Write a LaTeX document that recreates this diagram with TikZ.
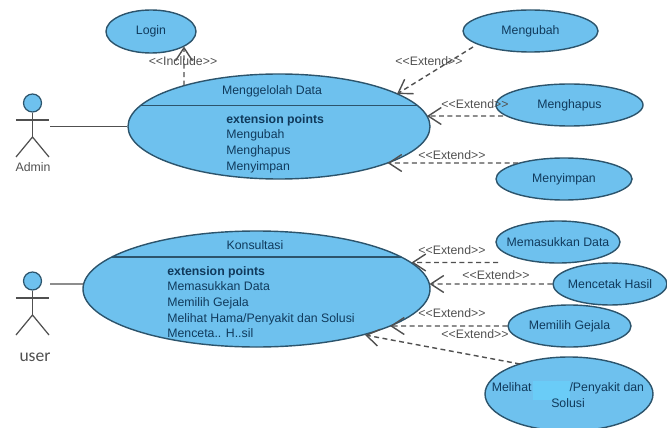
\documentclass[tikz,border=0pt]{standalone}
\usepackage{fontspec}
\setmainfont{Liberation Sans}
\newfontfamily\userfont{Carlito}
\usetikzlibrary{shapes.geometric, arrows.meta, calc}
\definecolor{CaseBlue}{RGB}{110, 193, 238}
\definecolor{CasePatch}{RGB}{106, 204, 247}
\definecolor{CaseLine}{RGB}{44, 84, 108}
\definecolor{CaseText}{RGB}{16, 58, 92}
\definecolor{ActorGrey}{RGB}{80, 80, 80}

\begin{document}
\begin{tikzpicture}[
    % Define styles for the elements
    use case/.style={
        ellipse,
        draw=CaseLine,
        fill=CaseBlue,
        line width=0.8pt,
        inner sep=0pt,
        align=center,
        text=CaseText,
        font=\fontsize{7}{8.9}\selectfont
    },
    case text/.style={
        inner sep=0pt,
        align=left,
        text=CaseText,
        font=\fontsize{7}{8.9}\selectfont
    },
    actor head/.style={
        circle,
        draw=CaseLine,
        fill=CaseBlue,
        line width=0.7pt,
        inner sep=0pt,
        minimum size=0.36cm
    },
    actor line/.style={
        draw=ActorGrey,
        line width=0.7pt
    },
    extend line/.style={
        draw=ActorGrey,
        line width=0.8pt,
        dash pattern=on 2.8pt off 2pt,
        -{Straight Barb[length=2.6mm, width=3.4mm]}
    },
    stereo label/.style={
        inner sep=0pt,
        text=ActorGrey,
        font=\fontsize{7}{8}\selectfont
    }
]
    \useasboundingbox (0,0) rectangle (13.34,8.54);

    % --- Actors ---
    \foreach \name/\hy in {admin/6.48, user/2.92} {
        \node[actor head] (\name) at (0.65,\hy) {};
        \draw[actor line] (\name.south) -- ($(\name.center)+(0,-0.68)$) coordinate (\name hip);
        \draw[actor line] ($(\name.center)+(-0.33,-0.34)$) -- ($(\name.center)+(0.33,-0.34)$);
        \draw[actor line] ($(\name hip)+(-0.33,-0.4)$) -- (\name hip) -- ($(\name hip)+(0.33,-0.4)$);
    }
    \node[stereo label] (adminlabel) at (0.66,5.2) {Admin};
    \node[inner sep=0pt, text=ActorGrey, font=\userfont\fontsize{10}{11}\selectfont] (userlabel) at (0.7,1.39) {user};
    \coordinate (adminhand) at (1.0,6.01);
    \coordinate (userhand) at (1.0,2.86);

    % --- Main use cases ---
    \node[use case, minimum width=6.04cm, minimum height=2.1cm] (data) at (5.58,6.01) {};
    \draw[draw=CaseLine, line width=0.8pt] ($(data.center)+(2.76,0.42)$) -- ($(data.center)+(-2.76,0.42)$);
    \node[case text] (datatitle) at (5.44,6.72) {Menggelolah Data};
    \node[case text, anchor=north west] (datapoints) at (4.52,6.26) {\textbf{extension points}\\Mengubah\\Menghapus\\Menyimpan};

    \node[use case, minimum width=6.94cm, minimum height=2.32cm] (konsul) at (5.13,2.76) {};
    \draw[draw=CaseLine, line width=0.8pt] ($(konsul.center)+(2.89,0.64)$) -- ($(konsul.center)+(-2.89,0.64)$);
    \node[case text] (konsultitle) at (5.1,3.64) {Konsultasi};
    \node[case text, anchor=north west] (konsulpoints) at (3.34,3.22) {\textbf{extension points}\\Memasukkan Data\\Memilih Gejala\\Melihat Hama/Penyakit dan Solusi\\Menceta.. H..sil};

    % --- Other use cases ---
    \node[use case, minimum width=1.8cm, minimum height=0.86cm] (login) at (3.02,7.91) {Login};
    \node[use case, minimum width=2.7cm, minimum height=0.84cm] (mengubah) at (10.61,7.92) {Mengubah};
    \node[use case, minimum width=2.94cm, minimum height=0.84cm] (menghapus) at (11.39,6.44) {Menghapus};
    \node[use case, minimum width=2.72cm, minimum height=0.84cm] (menyimpan) at (11.28,4.96) {Menyimpan};
    \node[use case, minimum width=2.46cm, minimum height=0.84cm] (memilih) at (11.39,2.02) {Memilih Gejala};
    % Long names set apart, or the ellipse grows to hold them
    \node[use case, minimum width=2.48cm, minimum height=0.84cm] (memasukkan) at (11.16,3.7) {};
    \node[case text] (memasukkantext) at (memasukkan.center) {Memasukkan Data};
    \node[use case, minimum width=2.28cm, minimum height=0.84cm] (mencetak) at (12.2,2.86) {};
    \node[case text] (mencetaktext) at (mencetak.center) {Mencetak Hasil};
    \node[use case, minimum width=3.36cm, minimum height=1.48cm] (melihat) at (11.38,0.66) {};
    \fill[CasePatch] (10.66,0.54) rectangle (11.4,0.92);
    \node[case text, align=center] (melihattext) at (11.36,0.64) {Melihat\hspace{0.76cm}/Penyakit dan\\Solusi};
    \coordinate (masukkanend) at (9.96,3.29);

    % --- Connections ---
    \draw[actor line] (adminhand) -- (data.west);
    \draw[actor line] (userhand) -- ($(konsul.center)+(-3.46,0.1)$);

    \draw[extend line] ($(data.center)+(-1.9,0.82)$) -- ($(login.center)+(0.66,-0.3)$);
    \draw[extend line] ($(mengubah.center)+(-1.15,-0.32)$) -- ($(data.center)+(2.36,0.65)$);
    \draw[extend line] ($(menghapus.center)+(-1.33,-0.22)$) -- ($(data.center)+(2.96,0.21)$);
    \draw[extend line] ($(menyimpan.center)+(-0.92,0.32)$) -- ($(data.center)+(2.17,-0.73)$);
    \draw[extend line] (masukkanend) -- ($(konsul.center)+(3.1,0.53)$);
    \draw[extend line] (mencetak.west) -- ($(konsul.center)+(3.46,0.1)$);
    \draw[extend line] (memilih.west) -- ($(konsul.center)+(2.67,-0.74)$);
    \draw[extend line] ($(melihat.center)+(-0.98,0.6)$) -- ($(konsul.center)+(2.17,-0.92)$);

    % --- Stereotype labels ---
    \node[stereo label] (includelabel) at (3.66,7.32) {<{}<Include>{}>};
    \node[stereo label] (extendone) at (8.58,7.32) {<{}<Extend>{}>};
    \node[stereo label] (extendtwo) at (9.5,6.46) {<{}<Extend>{}>};
    \node[stereo label] (extendthree) at (9.04,5.44) {<{}<Extend>{}>};
    \node[stereo label] (extendfour) at (9.04,3.54) {<{}<Extend>{}>};
    \node[stereo label] (extendfive) at (9.92,3.04) {<{}<Extend>{}>};
    \node[stereo label] (extendsix) at (9.04,2.28) {<{}<Extend>{}>};
    \node[stereo label] (extendseven) at (9.5,1.86) {<{}<Extend>{}>};
\end{tikzpicture}
\end{document}
